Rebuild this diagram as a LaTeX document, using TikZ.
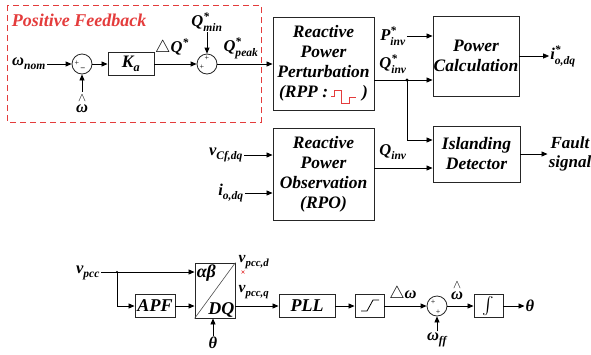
\documentclass[tikz,border=0pt]{standalone}
\usepackage{fontspec}
\usepackage{amsmath}
\setmainfont{Liberation Serif}[BoldItalicFont={Liberation Serif Bold Italic}]
\usetikzlibrary{arrows.meta}
\definecolor{fbred}{RGB}{228,60,60}
\newcommand{\vlabx}[3]{#1$^{\text{#2}}_{\text{#3}}$}
\newcommand{\whatx}{$\overset{\wedge}{\text{ω}}$}
\begin{document}
\begin{tikzpicture}[x=1pt,y=-1pt,
  blk/.style={draw=black!85, line width=0.9pt, fill=white, inner sep=0pt, align=center, font=\bfseries\itshape\fontsize{17.5}{20}\selectfont},
  lab/.style={inner sep=1pt, font=\bfseries\itshape\fontsize{16.5}{18}\selectfont},
  sumc/.style={circle, draw=black!85, line width=0.8pt, minimum size=20pt, inner sep=0pt},
  arr/.style={-{Triangle[length=6pt,width=5pt]}, line width=0.8pt},
  sgn/.style={font=\fontsize{8}{8}\selectfont, inner sep=0pt}]
\path[use as bounding box] (0,0) rectangle (591,354);
% positive feedback frame
\draw[fbred, line width=0.9pt, dash pattern=on 6pt off 4pt] (7,5) rectangle (261,122);
\node[lab, text=fbred, font=\bfseries\itshape\fontsize{18}{18}\selectfont] (pf) at (79,20) {Positive Feedback};
% top-left chain
\node[lab] (wnom) at (29,64) {\vlabx{ω}{}{nom}};
\node[sumc] (s1) at (82,64) {};
\node[sgn] at (77,63) {+};
\node[sgn] at (83,68) {\textbf{\_}};
\node[lab] (what) at (82,103) {\whatx};
\node[blk, minimum width=46pt, minimum height=23pt] (ka) at (131,64) {\vlabx{K}{}{a}};
\node[lab] (dq) at (172,48) {$\triangle$\vlabx{Q}{*}{}};
\node[sumc] (s2) at (207,64) {};
\node[sgn] at (202,67) {+};
\node[sgn] at (207,58) {+};
\node[lab] (qmin) at (207,22) {\vlabx{Q}{*}{min}};
\node[lab] (qpeak) at (241,48) {\vlabx{Q}{*}{peak}};
\draw[arr] (wnom) -- (s1);
\draw[arr] (what) -- (s1);
\draw[arr] (s1) -- (ka);
\draw[arr] (ka) -- (s2);
\draw[arr] (qmin) -- (s2);
% RPP and power calc
\node[blk, minimum width=101pt, minimum height=93pt] (rpp) at (323.5,63.5) {Reactive\\Power\\Perturbation\\(RPP :\hspace{34pt})};
\draw[fbred, line width=0.8pt] (331,96) -- (334,96) -- (334,90) -- (341,90) -- (341,103) -- (349,103) -- (349,97) -- (356,97);
\draw[arr] (s2) -- (s2 -| rpp.west);
\node[blk, minimum width=86pt, minimum height=80pt] (pc) at (476,56) {Power\\Calculation};
\node[lab] (pinv) at (393,36) {\vlabx{P}{*}{inv}};
\node[lab] (qinvs) at (393,64) {\vlabx{Q}{*}{inv}};
\draw[arr] (pinv.east |- 0,36) -- (pc.west |- 0,36);
\coordinate (qo) at ([yshift=-16.5pt]rpp.east);
\draw[arr] (qo) -- (qo -| pc.west);
\coordinate (j1) at (407,80);
\fill (j1) circle (1.6pt);
\node[lab] (iod) at (563,56) {\vlabx{i}{*}{o,dq}};
\draw[arr] (pc) -- (iod);
% RPO and islanding
\node[blk, minimum width=101pt, minimum height=92pt] (rpo) at (323.5,174) {Reactive\\Power\\Observation\\(RPO)};
\node[blk, minimum width=87pt, minimum height=56pt] (isl) at (476.5,154) {Islanding\\Detector};
\draw[arr] (j1) |- ([yshift=14pt]isl.west);
\coordinate (qr) at ([yshift=6pt]rpo.east);
\draw[arr] (qr) -- (qr -| isl.west);
\node[lab] (qinv) at (393,152) {\vlabx{Q}{}{inv}};
\node[lab, align=center, font=\bfseries\itshape\fontsize{17}{19}\selectfont] (fault) at (570,154) {Fault\\signal};
\draw[arr] (isl) -- (fault);
\node[lab] (vcf) at (226,155) {\vlabx{v}{}{Cf,dq}};
\node[lab] (io) at (231,193) {\vlabx{i}{}{o,dq}};
\draw[arr] (vcf.east) -- (vcf.east -| rpo.west);
\draw[arr] (io.east) -- (io.east -| rpo.west);
% bottom chain
\node[lab] (vpcc) at (88,273) {\vlabx{v}{}{pcc}};
\node[draw=black!85, line width=0.9pt, minimum width=40pt, minimum height=55pt, inner sep=0pt] (tr) at (215,290.5) {};
\draw[line width=0.6pt, black!70] (tr.south west) -- (tr.north east);
\node[lab, anchor=north west, inner sep=2pt, font=\bfseries\itshape\fontsize{18}{18}\selectfont] at (tr.north west) {αβ};
\node[lab, anchor=south east, inner sep=1pt, font=\bfseries\itshape\fontsize{18}{18}\selectfont] at (tr.south east) {DQ};
\node[blk, minimum width=40pt, minimum height=23pt, font=\bfseries\itshape\fontsize{18}{18}\selectfont] (apf) at (155,306) {APF};
\coordinate (j2) at (117,272);
\fill (j2) circle (1.2pt);
\draw[arr] (vpcc.east |- j2) -- (j2 -| tr.west);
\draw[arr] (j2) |- (apf.west);
\draw[arr] (apf) -- (apf -| tr.west);
\node[lab] (th1) at (213,343) {θ};
\draw[arr] (th1.north) -- (th1.north |- tr.south);
\node[lab, font=\bfseries\itshape\fontsize{15.5}{18}\selectfont] (vd) at (254,262) {\vlabx{v}{}{pcc,d}};
\draw[fbred, line width=0.5pt] (241.5,270.5) -- (244.5,273.5) (241.5,273.5) -- (244.5,270.5);
\node[lab, font=\bfseries\itshape\fontsize{15.5}{18}\selectfont] (vq) at (254,292) {\vlabx{v}{}{pcc,q}};
\node[blk, minimum width=56pt, minimum height=23pt, font=\bfseries\itshape\fontsize{18}{18}\selectfont] (pll) at (307,306) {PLL};
\draw[arr] (tr.east |- pll) -- (pll);
\node[blk, minimum width=29pt, minimum height=23pt] (sat) at (369.5,306) {};
\draw[line width=0.8pt] (361,311) -- (367,311) -- (373,300) -- (379,300);
\draw[arr] (pll) -- (sat);
\node[sumc] (s3) at (437,306) {};
\node[sgn] at (433,302) {+};
\node[sgn] at (438,312) {+};
\draw[arr] (sat) -- (s3);
\node[lab] (dw) at (403,294) {$\triangle$ω};
\node[lab] (wff) at (437,340) {\vlabx{ω}{}{ff}};
\draw[arr] (wff) -- (s3);
\node[blk, minimum width=29pt, minimum height=23pt] (int) at (488.5,306) {$\int$};
\node[lab] (wh2) at (457,290) {\whatx};
\draw[arr] (s3) -- (int);
\node[lab] (th2) at (530,306) {θ};
\draw[arr] (int) -- (th2);
\end{tikzpicture}
\end{document}
